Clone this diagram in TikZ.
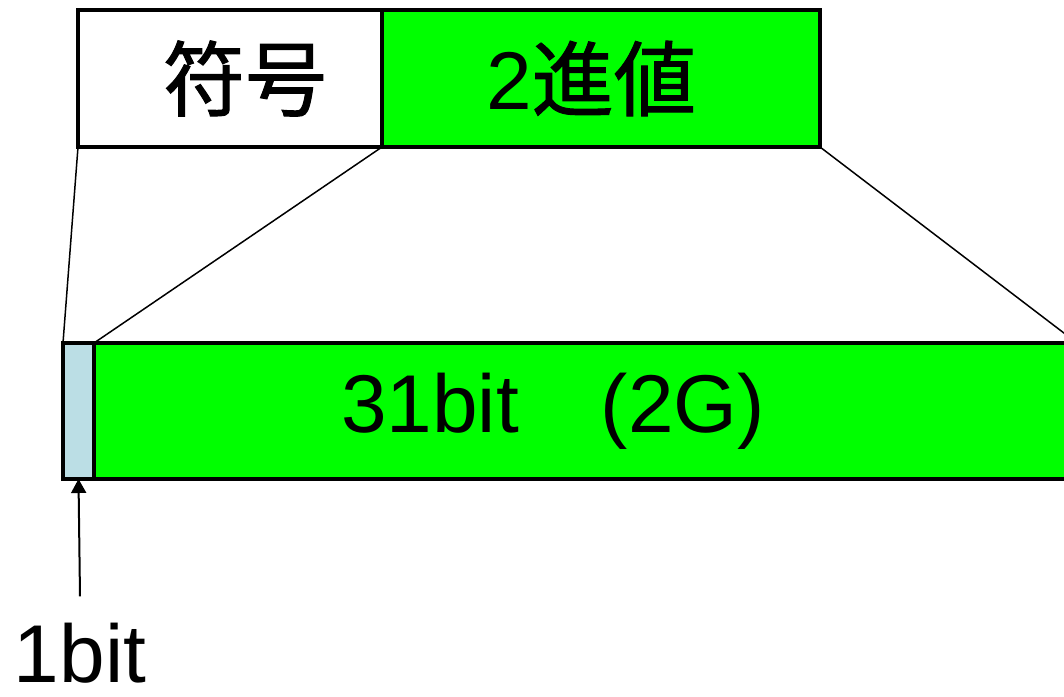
\documentclass[tikz,border=0pt]{standalone}
\usepackage{fontspec}
\setmainfont{Liberation Sans}
\newfontfamily\jpfont{Noto Sans CJK JP}[FakeBold=1.2]
\usetikzlibrary{positioning,arrows.meta}
\definecolor{bitgreen}{RGB}{0,255,0}
\definecolor{signblue}{RGB}{187,222,229}
\begin{document}
\begin{tikzpicture}
  [x=1pt,y=-1pt,
   every node/.style={font=\fontsize{82}{96}\selectfont},
   field/.style={draw,line width=4pt,outer sep=0pt,inner sep=0pt,minimum height=137pt},
   fan/.style={line width=1.5pt}]
  \useasboundingbox (0,0) rectangle (1064,696);
  \node[field,minimum width=304pt] (sign) at (230,78.5) {\hspace*{30pt}\jpfont 符号};
  \node[field,fill=bitgreen,minimum width=438pt,right=0pt of sign] (val) {\hspace*{-20pt}2\jpfont 進値};
  \node[field,fill=signblue,minimum width=31pt,minimum height=136pt] (sbit) at (78.5,411) {};
  \node[field,fill=bitgreen,minimum width=983pt,minimum height=136pt,right=0pt of sbit] (bits) {\hspace*{-65pt}31bit\quad(2G)};
  \node[anchor=base,inner sep=1pt] (onebit) at (80,682) {1bit};

  \foreach \from/\to in {sign.south west/sbit.north west,val.south west/sbit.north east,val.south east/bits.north east}
    \draw[fan] (\from) -- (\to);
  \draw[line width=2pt,-{Triangle[width=15pt,length=14pt]}] ([yshift=25pt]onebit.north) -- (sbit.south);
\end{tikzpicture}
\end{document}
